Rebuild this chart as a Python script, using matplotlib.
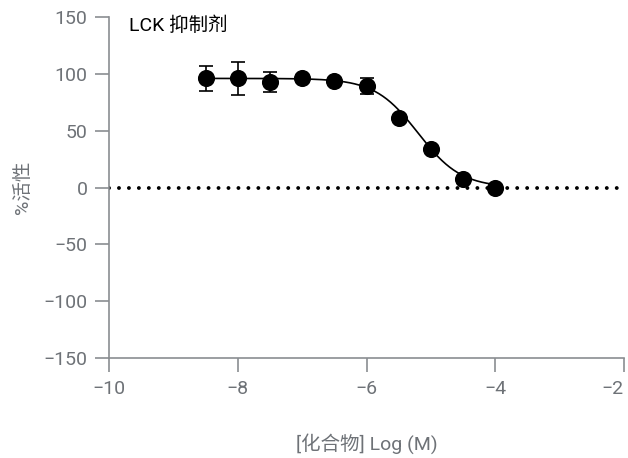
import numpy as np
import matplotlib
matplotlib.use("Agg")
import matplotlib.pyplot as plt

plt.rcParams['font.family'] = ['Roboto', 'Noto Sans CJK SC', 'DejaVu Sans']

# dose-response data
log_conc = [-8.5, -8.0, -7.5, -7.0, -6.5, -6.0, -5.5, -5.0, -4.5, -4.0]
activity = [96, 96, 93, 96, 94, 89, 61, 34, 7.5, 0]
err = [11, 14.5, 9, 0, 0, 7, 0, 0, 0, 0]

# 4PL fit parameters
fit_top, fit_bottom, fit_logic50, fit_hill = 96.0, 0.0, -5.2, 1.3

GREY = "#6e7277"
AXIS = "#8a8d91"

fig = plt.figure(figsize=(6.28, 4.58), dpi=100)
ax = fig.add_axes([0.1736, 0.2183, 0.820, 0.7445])

xs = np.linspace(log_conc[0], log_conc[-1], 300)
ys = fit_bottom + (fit_top - fit_bottom) / (1 + 10 ** ((xs - fit_logic50) * fit_hill))
ax.plot(xs, ys, color="black", lw=1.2, zorder=2)

ax.plot([-10, -2], [0, 0], color="black", lw=2.8, linestyle=(0, (0.01, 2.55)),
        dash_capstyle="round", zorder=1)

ax.errorbar(log_conc, activity, yerr=err, fmt="o", color="black", ms=11.3,
            ecolor="black", elinewidth=1.2, capsize=5, capthick=1.2, zorder=3)

ax.set_xlim(-10, -2)
ax.set_ylim(-150, 150)
ax.set_xticks([-10, -8, -6, -4, -2])
ax.set_yticks([-150, -100, -50, 0, 50, 100, 150])
ax.set_xticklabels(["\u221210", "\u22128", "\u22126", "\u22124", "\u22122"])
ax.set_yticklabels(["\u2212150", "\u2212100", "\u221250", "0", "50", "100", "150"])
# keep the last x label inside the figure
ax.get_xticklabels()[-1].set_ha("right")

for s in ("top", "right"):
    ax.spines[s].set_visible(False)
for s in ("left", "bottom"):
    ax.spines[s].set_color(AXIS)
    ax.spines[s].set_linewidth(1.2)
ax.tick_params(direction="out", length=10, width=1.2, color=AXIS,
               labelcolor=GREY, labelsize=14, pad=5.5)

ax.set_xlabel("[化合物] Log (M)", color=GREY, fontsize=14, labelpad=26)
ax.set_ylabel("%活性", color=GREY, fontsize=14, labelpad=8)
ax.text(-9.69, 142, "LCK 抑制剂", fontsize=14, color="black", va="center", ha="left")

fig.savefig("out.png", dpi=100)
